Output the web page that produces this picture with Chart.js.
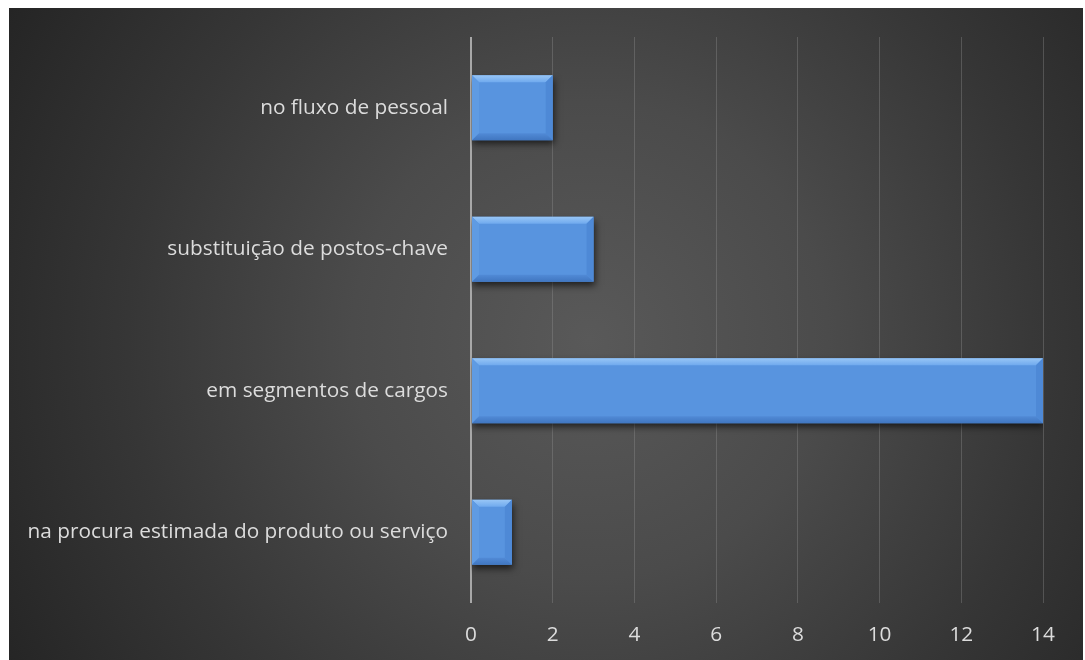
<!DOCTYPE html>
<html>
<head>
<meta charset="utf-8">
<script src="https://cdn.jsdelivr.net/npm/chart.js@4/dist/chart.umd.min.js"></script>
<style>
  html, body { margin: 0; padding: 0; background: #ffffff; }
  canvas { display: block; }
</style>
</head>
<body>
<canvas id="chart" width="1085" height="660"></canvas>
<script>
// Categories (top to bottom) and their counts
const categories = [
  'no fluxo de pessoal',
  'substituição de postos-chave',
  'em segmentos de cargos',
  'na procura estimada do produto ou serviço'
];
const counts = [2, 3, 14, 1];

// Value axis range and step
const axisMin = 0;
const axisMax = 14;
const axisStep = 2;

const FONT = '"Open Sans", "DejaVu Sans", sans-serif';
const TEXT = '#dcdcdc';

// Dark panel with a soft radial light behind the plot
const backgroundPlugin = {
  id: 'panelBackground',
  beforeDraw(chart) {
    const ctx = chart.ctx;
    const w = chart.width, h = chart.height;
    ctx.save();
    ctx.fillStyle = '#ffffff';
    ctx.fillRect(0, 0, w, h);
    const cx = 590, cy = 340;
    const g = ctx.createRadialGradient(cx, cy, 0, cx, cy, 680);
    g.addColorStop(0, '#595959');
    g.addColorStop(0.35, '#4b4b4b');
    g.addColorStop(0.68, '#363636');
    g.addColorStop(1, '#242424');
    ctx.fillStyle = g;
    ctx.fillRect(9, 8, w - 11, h - 8);
    ctx.restore();
  }
};

// Drop shadow under the bars plus a bevelled face on each bar
const bevelPlugin = {
  id: 'bevelBars',
  beforeDatasetsDraw(chart) {
    const ctx = chart.ctx;
    ctx.save();
    ctx.shadowColor = 'rgba(0,0,0,0.65)';
    ctx.shadowBlur = 7;
    ctx.shadowOffsetX = 1;
    ctx.shadowOffsetY = 4;
  },
  afterDatasetsDraw(chart) {
    const ctx = chart.ctx;
    ctx.restore();
    ctx.save();
    const meta = chart.getDatasetMeta(0);
    meta.data.forEach(bar => {
      const p = bar.getProps(['x', 'y', 'base', 'height'], true);
      const L = Math.min(p.base, p.x), R = Math.max(p.base, p.x);
      const T = p.y - p.height / 2, B = p.y + p.height / 2;
      const b = Math.min(7, (R - L) / 2);
      const poly = (pts, fill) => {
        ctx.beginPath();
        ctx.moveTo(pts[0][0], pts[0][1]);
        for (let i = 1; i < pts.length; i++) ctx.lineTo(pts[i][0], pts[i][1]);
        ctx.closePath();
        ctx.fillStyle = fill;
        ctx.fill();
      };
      // top edge: bright highlight
      const gt = ctx.createLinearGradient(0, T, 0, T + b);
      gt.addColorStop(0, '#98c6f6');
      gt.addColorStop(1, '#70aaee');
      poly([[L, T], [R, T], [R - b, T + b], [L + b, T + b]], gt);
      // left edge
      poly([[L, T], [L + b, T + b], [L + b, B - b], [L, B]], '#5f9be3');
      // right edge
      poly([[R, T], [R - b, T + b], [R - b, B - b], [R, B]], '#4e89d6');
      // bottom edge: shaded
      const gb = ctx.createLinearGradient(0, B - b, 0, B);
      gb.addColorStop(0, '#518ad6');
      gb.addColorStop(1, '#4076c0');
      poly([[L, B], [R, B], [R - b, B - b], [L + b, B - b]], gb);
    });
    ctx.restore();
  }
};

new Chart(document.getElementById('chart'), {
  type: 'bar',
  data: {
    labels: categories,
    datasets: [{
      data: counts,
      backgroundColor: '#5894df',
      borderWidth: 0,
      barPercentage: 0.46,
      categoryPercentage: 1.0
    }]
  },
  options: {
    indexAxis: 'y',
    responsive: false,
    devicePixelRatio: 1,
    animation: false,
    layout: { padding: { top: 37, right: 42, left: 0, bottom: 0 } },
    plugins: {
      legend: { display: false },
      tooltip: { enabled: false }
    },
    scales: {
      x: {
        min: axisMin,
        max: axisMax,
        ticks: {
          stepSize: axisStep,
          color: TEXT,
          font: { family: FONT, size: 20.8 },
          padding: 20
        },
        grid: {
          drawTicks: false,
          color: c => (c.tick && c.tick.value === 0) ? '#a8a8a8' : 'rgba(150,150,150,0.35)',
          lineWidth: c => (c.tick && c.tick.value === 0) ? 2 : 1
        },
        border: { display: false },
        afterFit(scale) { scale.height = 57; }
      },
      y: {
        ticks: {
          color: TEXT,
          font: { family: FONT, size: 20.8 },
          padding: 23
        },
        grid: { display: false, drawTicks: false },
        border: { display: false },
        afterFit(scale) { scale.width = 471; }
      }
    }
  },
  plugins: [backgroundPlugin, bevelPlugin]
});
</script>
</body>
</html>
